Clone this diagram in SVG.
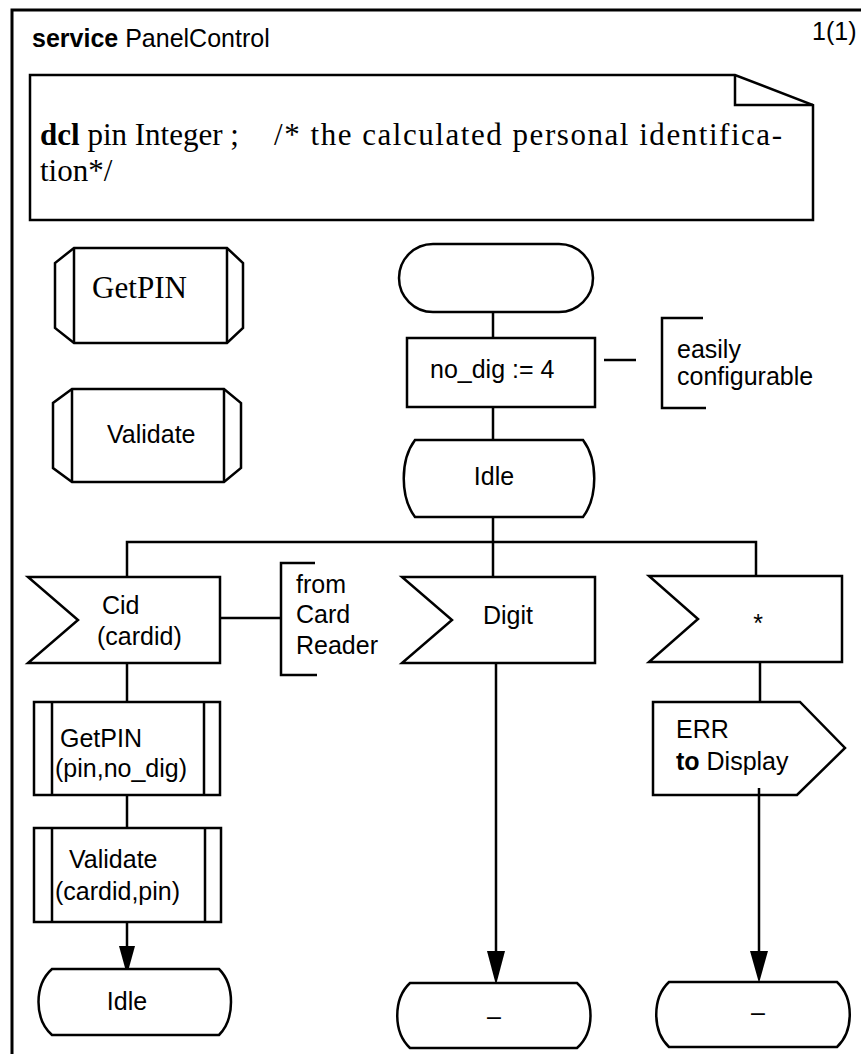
<svg xmlns="http://www.w3.org/2000/svg" width="861" height="1054" viewBox="0 0 861 1054">
<defs>
<style>
.s{fill:#fff;stroke:#000;stroke-width:2.5}
.ln{fill:none;stroke:#000;stroke-width:2.5}
.t{font-family:"Liberation Sans",Arial,sans-serif;font-size:25px;fill:#000}
.tm{font-family:"Liberation Serif","Times New Roman",serif;font-size:31px;fill:#000}
.b{font-weight:bold}
</style>
</defs>
<rect width="861" height="1054" fill="#fff"/>
<path d="M12,1054 V10 H861" fill="none" stroke="#000" stroke-width="3"/>
<text class="t" x="32" y="47"><tspan class="b">service</tspan> PanelControl</text>
<text class="t" x="812" y="40">1(1)</text>

<g id="note">
<path class="s" d="M30,75 H735 L813,105 V220 H30 Z"/>
<path class="ln" d="M735,75 V105 H813"/>
<text class="tm" x="40" y="145"><tspan class="b">dcl</tspan> pin Integer ;</text>
<text class="tm" x="274" y="145" textLength="508" lengthAdjust="spacing">/* the calculated personal identifica-</text>
<text class="tm" x="40" y="181">tion*/</text>
</g>

<g id="ref-getpin">
<path class="s" d="M74,248 H227 L243,263 V328 L227,343 H74 L55,328 V263 Z"/>
<path class="ln" d="M74,248 V343 M227,248 V343"/>
<text class="tm" x="92" y="298" textLength="95" lengthAdjust="spacingAndGlyphs">GetPIN</text>
</g>

<g id="ref-validate">
<path class="s" d="M72,389 H224 L241,403 V468 L224,482 H72 L53,468 V403 Z"/>
<path class="ln" d="M72,389 V482 M224,389 V482"/>
<text class="t" x="107" y="443">Validate</text>
</g>

<g id="connectors">
<path class="ln" d="M493,312 V338"/>
<path class="ln" d="M493,407 V440"/>
<path class="ln" d="M493,517 V542 M127,577 V542 H756 V576 M493,542 V577"/>
<path class="ln" d="M604,360 H636"/>
<path class="ln" d="M220,618 H281"/>
<path class="ln" d="M127,663 V702"/>
<path class="ln" d="M127,795 V828"/>
<path class="ln" d="M127,922 V947"/>
<path d="M119,946 H135 L127,975 Z" fill="#000"/>
<path class="ln" d="M496,663 V952"/>
<path d="M487,951 H505 L496,985 Z" fill="#000"/>
<path class="ln" d="M760,662 V702"/>
<path class="ln" d="M759,788 V952"/>
<path d="M750,951 H768 L759,983 Z" fill="#000"/>
</g>

<g id="start">
<rect class="s" x="399" y="244" width="194" height="68" rx="34" ry="34"/>
</g>

<g id="task">
<rect class="s" x="407" y="338" width="188" height="69"/>
<text class="t" x="430" y="378">no_dig := 4</text>
</g>

<g id="comment-config">
<path class="ln" d="M703,318 H662 V408 H706"/>
<text class="t" x="677" y="358">easily</text>
<text class="t" x="677" y="385">configurable</text>
</g>

<g id="state-idle">
<path class="s" d="M415,440 H583 C598,460 598,497 583,517 H415 C400,497 400,460 415,440 Z"/>
<text class="t" x="494" y="485" text-anchor="middle">Idle</text>
</g>

<g id="input-cid">
<path class="s" d="M28,577 H220 V663 H28 L78,620 Z"/>
<text class="t" x="102" y="614">Cid</text>
<text class="t" x="97" y="645">(cardid)</text>
</g>

<g id="comment-card">
<path class="ln" d="M315,563 H281 V675 H317"/>
<text class="t" x="296" y="593">from</text>
<text class="t" x="296" y="623">Card</text>
<text class="t" x="296" y="654">Reader</text>
</g>

<g id="input-digit">
<path class="s" d="M402,577 H595 V663 H402 L452,620 Z"/>
<text class="t" x="508" y="624" text-anchor="middle">Digit</text>
</g>

<g id="input-star">
<path class="s" d="M649,576 H842 V662 H649 L698,619 Z"/>
<text class="t" x="758" y="632" text-anchor="middle">*</text>
</g>

<g id="output-err">
<path class="s" d="M653,702 H800 L845,748 L797,795 H653 Z"/>
<text class="t" x="676" y="738">ERR</text>
<text class="t" x="676" y="770"><tspan class="b">to</tspan> Display</text>
</g>
<path class="ln" d="M759,788 V795"/>

<g id="call-getpin">
<rect class="s" x="34" y="702" width="186" height="93"/>
<path class="ln" d="M52,702 V795 M204,702 V795"/>
<text class="t" x="60" y="747">GetPIN</text>
<text class="t" x="55" y="777">(pin,no_dig)</text>
</g>

<g id="call-validate">
<rect class="s" x="34" y="828" width="187" height="94"/>
<path class="ln" d="M52,828 V922 M205,828 V922"/>
<text class="t" x="69" y="868">Validate</text>
<text class="t" x="55" y="900">(cardid,pin)</text>
</g>

<g id="state-idle2">
<path class="s" d="M52,969 H219 C235,985 235,1019 219,1035 H52 C34,1019 34,985 52,969 Z"/>
<text class="t" x="127" y="1010" text-anchor="middle">Idle</text>
</g>

<g id="state-dash1">
<path class="s" d="M410,983 H577 C595,999 595,1032 577,1048 H410 C393,1032 393,999 410,983 Z"/>
<text class="t" x="494" y="1025" text-anchor="middle">–</text>
</g>

<g id="state-dash2">
<path class="s" d="M669,982 H837 C854,998 854,1031 837,1047 H669 C652,1031 652,998 669,982 Z"/>
<text class="t" x="758" y="1021" text-anchor="middle">–</text>
</g>
</svg>
